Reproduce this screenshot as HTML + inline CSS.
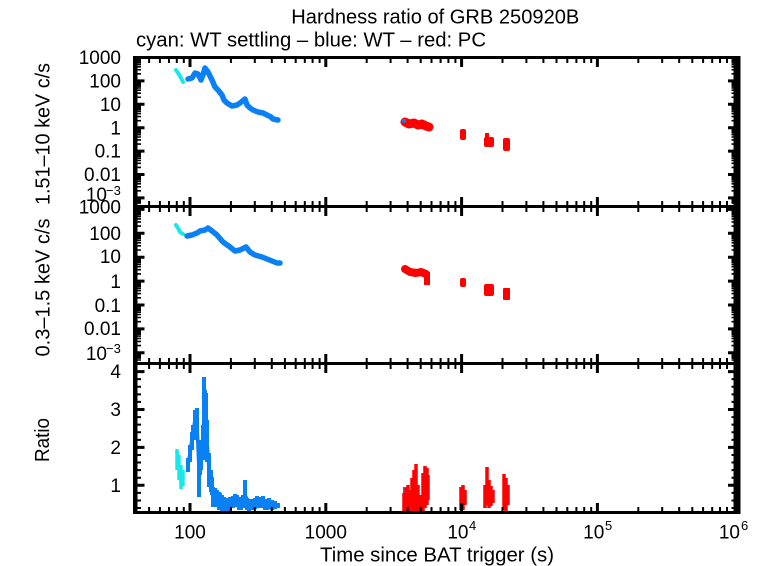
<!DOCTYPE html>
<html><head><meta charset="utf-8"><style>
html,body{margin:0;padding:0;background:#fff;}
svg{display:block;}
text{font-family:"Liberation Sans",sans-serif;fill:#000;}
</style></head><body>
<svg width="762" height="566" viewBox="0 0 762 566" xmlns="http://www.w3.org/2000/svg">
<rect width="762" height="566" fill="#fff"/>
<defs>
<g id="xt" stroke="#000" fill="none">
<path stroke-width="2" d="M149.1 0v5.5M159.9 0v5.5M169 0v5.5M176.8 0v5.5M183.8 0v5.5M230.9 0v5.5M254.8 0v5.5M271.8 0v5.5M284.9 0v5.5M295.7 0v5.5M304.8 0v5.5M312.6 0v5.5M319.6 0v5.5M366.7 0v5.5M390.6 0v5.5M407.6 0v5.5M420.7 0v5.5M431.5 0v5.5M440.6 0v5.5M448.4 0v5.5M455.4 0v5.5M502.5 0v5.5M526.4 0v5.5M543.4 0v5.5M556.5 0v5.5M567.3 0v5.5M576.4 0v5.5M584.2 0v5.5M591.2 0v5.5M638.3 0v5.5M662.2 0v5.5M679.2 0v5.5M692.3 0v5.5M703.1 0v5.5M712.2 0v5.5M720 0v5.5M727 0v5.5"/>
<path stroke-width="3" d="M190 0v9.5M325.8 0v9.5M461.6 0v9.5M597.4 0v9.5"/>
</g>
<g id="yt1" stroke="#000" fill="none">
<path stroke-width="1.6" d="M0 58.57h5.5M0 59.77h5.5M0 61.12h5.5M0 62.69h5.5M0 64.54h5.5M0 66.81h5.5M0 69.74h5.5M0 73.86h5.5M0 81.97h5.5M0 83.17h5.5M0 84.52h5.5M0 86.09h5.5M0 87.94h5.5M0 90.21h5.5M0 93.14h5.5M0 97.26h5.5M0 105.37h5.5M0 106.57h5.5M0 107.92h5.5M0 109.49h5.5M0 111.34h5.5M0 113.61h5.5M0 116.54h5.5M0 120.66h5.5M0 128.77h5.5M0 129.97h5.5M0 131.32h5.5M0 132.89h5.5M0 134.74h5.5M0 137.01h5.5M0 139.94h5.5M0 144.06h5.5M0 152.17h5.5M0 153.37h5.5M0 154.72h5.5M0 156.29h5.5M0 158.14h5.5M0 160.41h5.5M0 163.34h5.5M0 167.46h5.5M0 175.57h5.5M0 176.77h5.5M0 178.12h5.5M0 179.69h5.5M0 181.54h5.5M0 183.81h5.5M0 186.74h5.5M0 190.86h5.5M0 198.97h5.5M0 200.17h5.5M0 201.52h5.5M0 203.09h5.5"/>
<path stroke-width="3" d="M0 80.9h9M0 104.3h9M0 127.7h9M0 151.1h9M0 174.5h9M0 197.9h9"/>
</g>
<g id="yt2" stroke="#000" fill="none">
<path stroke-width="1.6" d="M0 210.49h5.5M0 211.72h5.5M0 213.1h5.5M0 214.7h5.5M0 216.59h5.5M0 218.91h5.5M0 221.9h5.5M0 226.11h5.5M0 234.39h5.5M0 235.62h5.5M0 237h5.5M0 238.6h5.5M0 240.49h5.5M0 242.81h5.5M0 245.8h5.5M0 250.01h5.5M0 258.29h5.5M0 259.52h5.5M0 260.9h5.5M0 262.5h5.5M0 264.39h5.5M0 266.71h5.5M0 269.7h5.5M0 273.91h5.5M0 282.19h5.5M0 283.42h5.5M0 284.8h5.5M0 286.4h5.5M0 288.29h5.5M0 290.61h5.5M0 293.6h5.5M0 297.81h5.5M0 306.09h5.5M0 307.32h5.5M0 308.7h5.5M0 310.3h5.5M0 312.19h5.5M0 314.51h5.5M0 317.5h5.5M0 321.71h5.5M0 329.99h5.5M0 331.22h5.5M0 332.6h5.5M0 334.2h5.5M0 336.09h5.5M0 338.41h5.5M0 341.4h5.5M0 345.61h5.5M0 353.89h5.5M0 355.12h5.5M0 356.5h5.5M0 358.1h5.5M0 359.99h5.5"/>
<path stroke-width="3" d="M0 209.4h9M0 233.3h9M0 257.2h9M0 281.1h9M0 305h9M0 328.9h9M0 352.8h9"/>
</g>
<g id="yt3" stroke="#000" fill="none">
<path stroke-width="2" d="M0 508.04h5.5M0 500.46h5.5M0 492.88h5.5M0 477.72h5.5M0 470.14h5.5M0 462.56h5.5M0 454.98h5.5M0 439.82h5.5M0 432.24h5.5M0 424.66h5.5M0 417.08h5.5M0 401.92h5.5M0 394.34h5.5M0 386.76h5.5M0 379.18h5.5"/>
<path stroke-width="3" d="M0 485.3h9M0 447.4h9M0 409.5h9M0 371.6h9"/>
</g>
</defs>

<!-- Data: panel 1 -->
<g fill="none" stroke-linecap="round" stroke-linejoin="round">
<polyline points="176,70 178,73 180,76 182,80 183,82" stroke="#1ae8e8" stroke-width="4"/>
<polyline points="188,79 192,78 195,73 198,74 201,80 203,75 205,68 208,72 212,80 215,87 218,90 222,95 224,100 227,103 232,106 237,105 240,103 245,99 247,105 250,108 253,110 258,112 263,113 267,115 271,117 273,119 278,120" stroke="#0a80f5" stroke-width="5.5"/>
<polyline points="405,122 409,124 414,123 418,125 422,124 426,126 429,127" stroke="#ff0000" stroke-width="9"/>
</g>
<circle cx="404" cy="121" r="2" fill="#0a80f5"/>
<rect x="460" y="129" width="6" height="11" rx="2" fill="#ff0000"/>
<rect x="484" y="137" width="10" height="10" rx="2" fill="#ff0000"/>
<rect x="485" y="133" width="4" height="6" fill="#ff0000"/>
<rect x="503" y="138" width="7" height="13" rx="2" fill="#ff0000"/>

<!-- Data: panel 2 -->
<g fill="none" stroke-linecap="round" stroke-linejoin="round">
<polyline points="176,225 178,228 180,232 183,234" stroke="#1ae8e8" stroke-width="4"/>
<polyline points="187,236 192,235 197,233 200,231 205,230 208,228 212,231 217,235 223,242 230,247 235,251 240,250 246,247 250,252 255,255 262,257 267,259 272,261 277,263 280,263" stroke="#0a80f5" stroke-width="5.5"/>
<polyline points="405,269 410,272 416,273 421,272 426,274" stroke="#ff0000" stroke-width="8"/>
</g>
<rect x="424" y="272" width="6" height="13" fill="#ff0000"/>
<rect x="460" y="278" width="6" height="9" rx="2" fill="#ff0000"/>
<rect x="484" y="284" width="10" height="12" rx="2" fill="#ff0000"/>
<rect x="503" y="288" width="7" height="12" rx="1" fill="#ff0000"/>

<!-- Data: panel 3 -->
<g fill="none" stroke-linecap="butt">
<path stroke="#1ae8e8" stroke-width="3.5" d="M177 449V470M179 455V480M181 465V489M183 470V486"/>
<polyline points="177,452 178,462 179,466 180,473 181,480 182,487" stroke="#1ae8e8" stroke-width="3.5"/>
<path stroke="#0a80f5" stroke-width="4" d="M188 458V472M190 445V462M192 432V450M193 425V440M195 410V432M197 408V440M199 450V497M200 440V475M201 440V470M203 425V460M204 377V443M205 390V430M206 393V447M207 420V462M209 453V487M211 470V492M212 477V495M213 487V507M215 488V507M217 490V507M219 492V510M220 493V510M222 495V512M224 497V511M226 498V511M228 500V511M230 497V510M233 496V508M235 494V506M237 495V507M239 497V510M241 498V510M243 495V508M245 480V507M247 498V510M249 500V511M251 499V510M253 500V510M255 498V509M257 496V507M259 498V508M261 497V508M263 496V508M265 499V510M267 500V510M269 498V509M272 500V510M275 501V509M278 503V508M405 487V497"/>
<polyline points="188,465 190,453 193,432 195,420 197,424 199,470 201,455 203,442 204,410 206,420 207,440 209,470 212,486 215,497 220,501 225,504 230,503 235,500 240,503 245,495 250,505 255,503 260,502 265,504 270,503 275,505 278,505" stroke="#0a80f5" stroke-width="3.5" stroke-linejoin="round"/>
<path stroke="#ff0000" stroke-width="3.5" d="M404 493V512M406 488V512M408 485V512M410 490V512M412 478V512M414 470V512M416 464V512M418 485V512M420 495V512M422 500V512M423 473V512M425 466V508M427 468V505M428 475V500M461 487V510M463 485V510M465 490V505M485 485V508M487 467V505M489 480V508M491 486V506M493 490V503M504 474V510M506 478V511M508 485V505"/>
</g>

<!-- Frames -->
<g fill="#000">
<rect x="133" y="56" width="607.5" height="3"/>
<rect x="133" y="205" width="607.5" height="3"/>
<rect x="133" y="362" width="607.5" height="3"/>
<rect x="133" y="511" width="607.5" height="3"/>
<rect x="133" y="56" width="4.5" height="458"/>
<rect x="733.5" y="56" width="7" height="458"/>
</g>
<use href="#xt" transform="translate(0,57.5)"/>
<use href="#xt" transform="translate(0,206.5) scale(1,-1)"/>
<use href="#xt" transform="translate(0,206.5)"/>
<use href="#xt" transform="translate(0,363.5) scale(1,-1)"/>
<use href="#xt" transform="translate(0,363.5)"/>
<use href="#xt" transform="translate(0,512.5) scale(1,-1)"/>
<use href="#yt1" transform="translate(135.5,0)"/>
<use href="#yt1" transform="translate(737,0) scale(-1,1)"/>
<use href="#yt2" transform="translate(135.5,0)"/>
<use href="#yt2" transform="translate(737,0) scale(-1,1)"/>
<use href="#yt3" transform="translate(135.5,0)"/>
<use href="#yt3" transform="translate(737,0) scale(-1,1)"/>

<!-- Titles -->
<text x="435.3" y="23.3" font-size="20" text-anchor="middle" textLength="288" lengthAdjust="spacingAndGlyphs">Hardness ratio of GRB 250920B</text>
<text x="311" y="46.7" font-size="20" text-anchor="middle" textLength="350" lengthAdjust="spacingAndGlyphs">cyan: WT settling – blue: WT – red: PC</text>
<text x="437" y="561.5" font-size="20" text-anchor="middle" textLength="234" lengthAdjust="spacingAndGlyphs">Time since BAT trigger (s)</text>
<text transform="translate(49.5,134) rotate(-90)" font-size="20" text-anchor="middle" textLength="142" lengthAdjust="spacingAndGlyphs">1.51–10 keV c/s</text>
<text transform="translate(49.5,287.5) rotate(-90)" font-size="20" text-anchor="middle" textLength="138" lengthAdjust="spacingAndGlyphs">0.3–1.5 keV c/s</text>
<text transform="translate(49,440) rotate(-90)" font-size="20" text-anchor="middle" textLength="44" lengthAdjust="spacingAndGlyphs">Ratio</text>

<!-- Y tick labels -->
<g font-size="19" text-anchor="end">
<text x="121" y="64">1000</text>
<text x="121" y="87.5">100</text>
<text x="121" y="111">10</text>
<text x="121" y="134.5">1</text>
<text x="121" y="157.5">0.1</text>
<text x="121" y="181">0.01</text>
<text x="107" y="201">10</text>
<text x="121" y="213.5">1000</text>
<text x="121" y="240">100</text>
<text x="121" y="263">10</text>
<text x="121" y="288">1</text>
<text x="121" y="312">0.1</text>
<text x="121" y="335">0.01</text>
<text x="107" y="360">10</text>
<text x="121" y="378">4</text>
<text x="121" y="416">3</text>
<text x="121" y="454">2</text>
<text x="121" y="492">1</text>
</g>
<text x="106" y="195" font-size="13">−3</text>
<text x="106" y="353" font-size="13">−3</text>

<!-- X tick labels -->
<g font-size="19" text-anchor="middle">
<text x="190" y="538.3">100</text>
<text x="325.8" y="538.3">1000</text>
</g>
<g font-size="19" text-anchor="end">
<text x="468.5" y="538.3">10</text>
<text x="604.3" y="538.3">10</text>
<text x="740" y="538.3">10</text>
</g>
<g font-size="13">
<text x="469" y="530">4</text>
<text x="605" y="530">5</text>
<text x="741" y="530">6</text>
</g>
</svg>
</body></html>
